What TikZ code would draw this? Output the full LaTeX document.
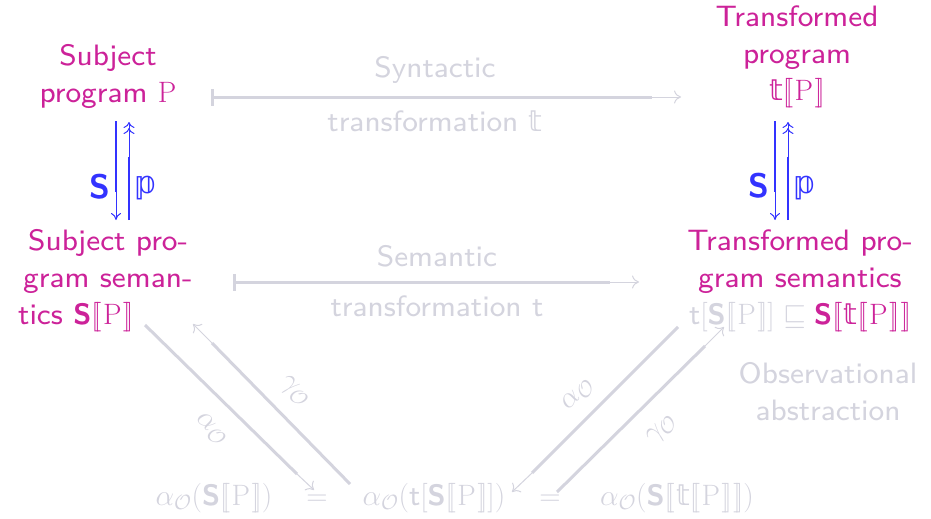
\RequirePackage{fix-cm}
\documentclass[tikz,border=0pt]{standalone}
\usepackage{fontspec}
\setsansfont{lmsans8-regular.otf}[BoldFont=lmsans10-bold.otf]
\newfontfamily\dsfam{DejaVu Sans}
\usetikzlibrary{arrows.meta}

\definecolor{hot}{RGB}{204,34,153}
\definecolor{sem}{RGB}{51,51,255}
\definecolor{dim}{RGB}{212,212,222}

\newcommand{\Sb}{\mbox{\sffamily\bfseries S}}
\newcommand{\sbr}[1]{\mathopen{[\mkern-2.9mu[}\mkern1mu#1\mkern1mu\mathclose{]\mkern-2.9mu]}}
\newcommand{\bbt}{\mbox{\dsfam 𝕥}}
\newcommand{\bbp}{\mbox{\dsfam\fontsize{31}{36}\selectfont 𝕡}}
\newcommand{\aO}{\alpha_{\mathcal{O}}}
\newcommand{\gO}{\gamma_{\mathcal{O}}}

\tikzset{
  txt/.style={font=\sffamily\fontsize{29.5}{37}\selectfont, inner sep=0pt},
  lbl/.style={font=\sffamily\fontsize{34}{40}\selectfont, inner sep=0pt, text=sem},
  heavy/.style={line width=3pt},
  light/.style={line width=1pt},
  tipcm/.style={-{Computer Modern Rightarrow[length=7pt,width=13pt]}},
  tipcmdbl/.style={-{Computer Modern Rightarrow[length=6pt,width=11pt]Computer Modern Rightarrow[length=6pt,width=11pt]}},
  barstart/.style={{Bar[width=17pt]}-},
}

\begin{document}
\begin{tikzpicture}[x=1pt,y=-1pt]
  \useasboundingbox (0,0) rectangle (931,519);

  % program-level nodes
  \node[txt, text=hot, align=center] (sp) at (108,76) {Subject\\program $\mathrm{P}$};
  \node[txt, text=hot, align=center] (tp) at (797,57) {Transformed\\program\\$\bbt\sbr{\mathrm{P}}$};

  % semantics-level nodes
  \node[txt, text=hot, align=left, anchor=west] (ss) at (18,281)
    {\hspace*{10pt}Subject pro-\\\hspace*{5pt}gram seman-\\tics $\Sb\sbr{\mathrm{P}}$};
  \node[txt, text=hot, align=center] (ts) at (800,281)
    {Transformed pro-\\gram semantics\\
     ${\color{dim}\mbox{t}[\Sb\sbr{\mathrm{P}}]}\mathrel{\color{dim}\sqsubseteq}\Sb\sbr{\bbt\sbr{\mathrm{P}}}$};

  \node[txt, text=dim, align=center] (obs) at (828,392) {Observational\\abstraction};

  % transformation labels
  \node[txt, text=dim] (syn1) at (435,70) {Syntactic};
  \node[txt, text=dim] (syn2) at (435,121) {transformation $\bbt$};
  \node[txt, text=dim] (sem1) at (437,256) {Semantic};
  \node[txt, text=dim] (sem2) at (437,306) {transformation t};

  % observational row
  \node[txt, text=dim, anchor=base] (o1) at (214,505) {$\aO(\Sb\sbr{\mathrm{P}})$};
  \node[txt, text=dim, anchor=base] (eq1) at (317,505) {$=$};
  \node[txt, text=dim, anchor=base] (o2) at (434,505) {$\aO(\mbox{t}[\Sb\sbr{\mathrm{P}}])$};
  \node[txt, text=dim, anchor=base] (eq2) at (550,505) {$=$};
  \node[txt, text=dim, anchor=base] (o3) at (677,505) {$\aO(\Sb\sbr{\bbt\sbr{\mathrm{P}}})$};

  % syntactic transformation arrow
  \coordinate (syA) at (211,97);
  \coordinate (syB) at (652,97);
  \coordinate (syC) at (681,97);
  \draw[dim, heavy, barstart] (syA) -- (syB);
  \draw[dim, light, tipcm] (syB) -- (syC);

  % semantic transformation arrow
  \coordinate (seA) at (233,282);
  \coordinate (seB) at (610,282);
  \coordinate (seC) at (639,282);
  \draw[dim, heavy, barstart] (seA) -- (seB);
  \draw[dim, light, tipcm] (seB) -- (seC);

  % semantics / program correspondence, left
  \coordinate (lS0) at (116,121);
  \coordinate (lS1) at (116,192);
  \coordinate (lS2) at (116,220);
  \draw[sem, line width=2.2pt] (lS0) -- (lS1);
  \draw[sem, light, -{Computer Modern Rightarrow[length=7pt,width=10pt]}] (lS1) -- (lS2);
  \coordinate (lP0) at (129,220);
  \coordinate (lP1) at (129,157);
  \coordinate (lP2) at (129,122);
  \draw[sem, line width=2.6pt] (lP0) -- (lP1);
  \draw[sem, light, tipcmdbl] (lP1) -- (lP2);
  \node[lbl, font=\sffamily\bfseries\fontsize{34}{40}\selectfont] (lSl) at (100,187) {S};
  \node[lbl] (lPl) at (146,188) {\bbp};

  % semantics / program correspondence, right
  \coordinate (rS0) at (775,121);
  \coordinate (rS1) at (775,192);
  \coordinate (rS2) at (775,220);
  \draw[sem, line width=2.2pt] (rS0) -- (rS1);
  \draw[sem, light, -{Computer Modern Rightarrow[length=7pt,width=10pt]}] (rS1) -- (rS2);
  \coordinate (rP0) at (788,220);
  \coordinate (rP1) at (788,157);
  \coordinate (rP2) at (788,122);
  \draw[sem, line width=2.6pt] (rP0) -- (rP1);
  \draw[sem, light, tipcmdbl] (rP1) -- (rP2);
  \node[lbl, font=\sffamily\bfseries\fontsize{34}{40}\selectfont] (rSl) at (759,186) {S};
  \node[lbl] (rPl) at (805,188) {\bbp};

  % abstraction / concretisation, left
  \coordinate (la0) at (145,325);
  \coordinate (la1) at (297,474);
  \coordinate (la2) at (314,490);
  \draw[dim, heavy] (la0) -- (la1);
  \draw[dim, light, tipcm] (la1) -- (la2);
  \coordinate (lg0) at (350,484);
  \coordinate (lg1) at (212,343);
  \coordinate (lg2) at (193,324);
  \draw[dim, heavy] (lg0) -- (lg1);
  \draw[dim, light, tipcm] (lg1) -- (lg2);
  \node[txt, text=dim, rotate=-45] (lal) at (211,429) {$\aO$};
  \node[txt, text=dim, rotate=-45] (lgl) at (294,392) {$\gO$};

  % abstraction / concretisation, right
  \coordinate (ra0) at (678,327);
  \coordinate (ra1) at (532,473);
  \coordinate (ra2) at (512,492);
  \draw[dim, heavy] (ra0) -- (ra1);
  \draw[dim, light, tipcm] (ra1) -- (ra2);
  \coordinate (rg0) at (557,492);
  \coordinate (rg1) at (705,346);
  \coordinate (rg2) at (724,327);
  \draw[dim, heavy] (rg0) -- (rg1);
  \draw[dim, light, tipcm] (rg1) -- (rg2);
  \node[txt, text=dim, rotate=45] (ral) at (578,395) {$\aO$};
  \node[txt, text=dim, rotate=45] (rgl) at (662,430) {$\gO$};
\end{tikzpicture}
\end{document}
